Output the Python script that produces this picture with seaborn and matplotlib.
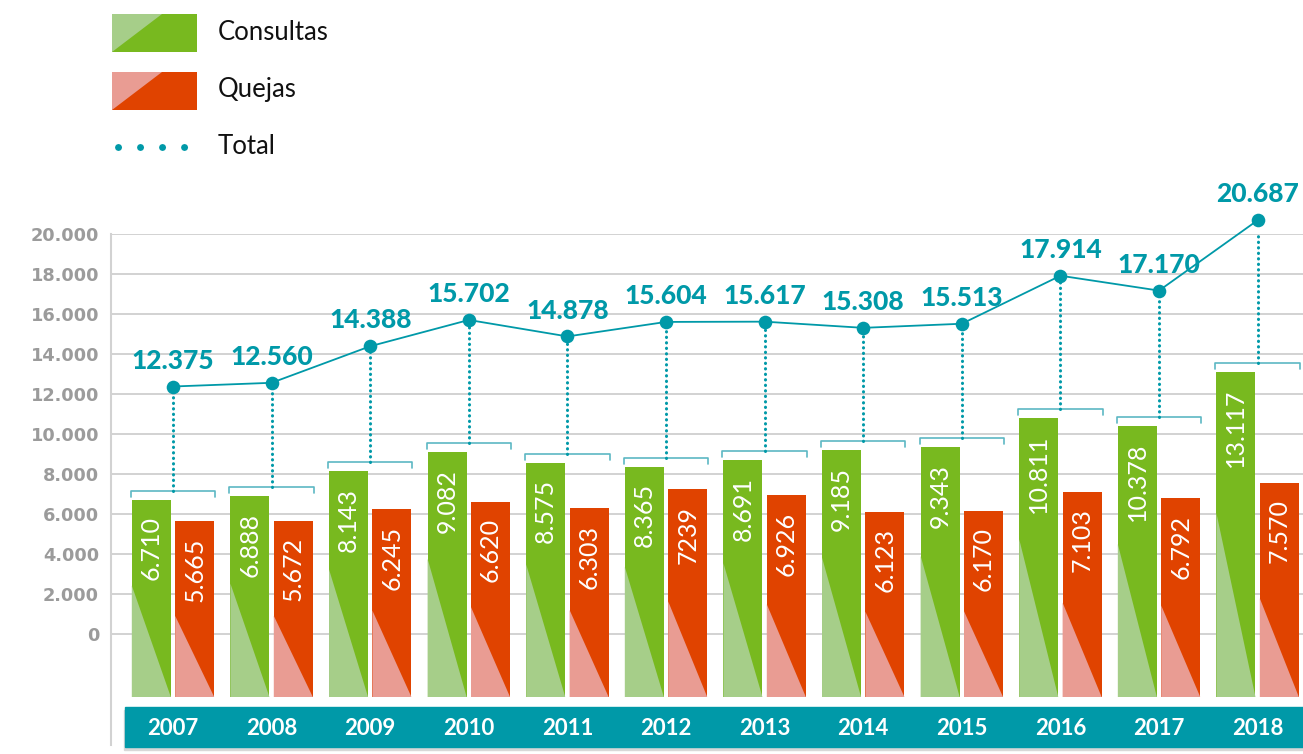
import numpy as np
import pandas as pd
import matplotlib.pyplot as plt
import seaborn as sns
from matplotlib.patches import Rectangle, Polygon
from matplotlib.lines import Line2D

years = ["2007", "2008", "2009", "2010", "2011", "2012",
         "2013", "2014", "2015", "2016", "2017", "2018"]
consultas = [6710, 6888, 8143, 9082, 8575, 8365, 8691, 9185, 9343, 10811, 10378, 13117]
quejas = [5665, 5672, 6245, 6620, 6303, 7239, 6926, 6123, 6170, 7103, 6792, 7570]
totales = [12375, 12560, 14388, 15702, 14878, 15604, 15617, 15308, 15513, 17914, 17170, 20687]
yticks = list(range(0, 20001, 2000))


def fmt(v):
    return f"{v:,}".replace(",", ".")


consultas_labels = [fmt(v) for v in consultas]
quejas_labels = [fmt(v) for v in quejas]
quejas_labels[5] = "7239"  # printed without the dot in the original
total_labels = [fmt(v) for v in totales]
ytick_labels = [fmt(v) for v in yticks]

GREEN = "#78B91F"
GREEN_LIGHT = "#A6CE89"
RED = "#E04300"
RED_LIGHT = "#E99C93"
TEAL = "#0099A8"
BRACKET = "#5CB8C4"
GRID = "#CBCBCB"
TICK = "#9B9B9B"

W, H = 1303, 754
BASE = -3150  # bars hang below the zero line, as in the original

sns.set_theme(style="white")
plt.rcParams["font.family"] = ["Lato", "DejaVu Sans"]

df = pd.DataFrame({
    "year": years * 2,
    "serie": ["Consultas"] * len(years) + ["Quejas"] * len(years),
    "valor": consultas + quejas,
})

fig = plt.figure(figsize=(W / 100, H / 100), dpi=100)
ax = fig.add_axes([111 / W, 1 - 745 / H, 1 - 111 / W, (745 - 234) / H])

sns.barplot(data=df, x="year", y="valor", hue="serie", palette=[GREEN, RED],
            width=0.88, gap=0.1, saturation=1, legend=False, linewidth=0,
            ax=ax, zorder=3)

# stretch bars down to the base and paint the light corner triangle
for cont, light, frac, labels in zip(ax.containers, [GREEN_LIGHT, RED_LIGHT],
                                     [0.565, 0.46], [consultas_labels, quejas_labels]):
    for bar, lbl in zip(cont, labels):
        top = bar.get_height()
        bar.set_y(BASE)
        bar.set_height(top - BASE)
        x0 = bar.get_x()
        x1 = x0 + bar.get_width()
        ax.add_patch(Polygon([(x0, BASE), (x0, BASE + frac * (top - BASE)), (x1, BASE)],
                             closed=True, color=light, lw=0, zorder=3.5))
        ax.annotate(lbl, ((x0 + x1) / 2, top), xytext=(0, -12), textcoords="offset points",
                    rotation=90, ha="center", va="top", color="white", fontsize=18,
                    zorder=4)

# total line
sns.lineplot(x=years, y=totales, color=TEAL, lw=1.3, marker="o", markersize=9.8,
             markeredgewidth=0, ax=ax, zorder=6)
tline = ax.lines[-1]
tline.set_clip_on(False)

# brackets and dotted connectors
for cbar, qbar, tot in zip(ax.containers[0], ax.containers[1], totales):
    xl = cbar.get_x() - 0.01
    xr = qbar.get_x() + qbar.get_width() + 0.01
    yb = max(cbar.get_y() + cbar.get_height(), qbar.get_y() + qbar.get_height()) + 450
    ax.plot([xl, xl, xr, xr], [yb - 300, yb, yb, yb - 300], color=BRACKET, lw=1.2, zorder=3)
    xc = (xl + xr) / 2
    ax.plot([xc, xc], [yb, tot], color=TEAL, lw=2.2, linestyle=(0, (0.1, 1.7)),
            dash_capstyle="round", zorder=5)

for x, y, lbl in zip(tline.get_xdata(), tline.get_ydata(), total_labels):
    ax.annotate(lbl, (x, y), xytext=(0, 10), textcoords="offset points", ha="center",
                va="bottom", color=TEAL, fontsize=19, fontweight="black",
                annotation_clip=False, zorder=7)

# axes styling
ax.set_ylim(-5550, 20000)
ax.set_xlim(-0.629, 11.46)
ax.set_yticks(yticks)
ax.set_yticklabels(ytick_labels, fontfamily="DejaVu Sans", fontweight="bold",
                   color=TICK, fontsize=12.8)
ax.tick_params(axis="y", length=0, pad=8.6)
ax.tick_params(axis="x", length=0, pad=-19.5, labelcolor="white", labelsize=16)
for t in ax.get_xticklabels():
    t.set_fontweight("bold")
ax.set_xlabel("")
ax.set_ylabel("")
ax.set_axisbelow("line")
ax.yaxis.grid(True, color=GRID, lw=1.2)
ax.xaxis.grid(False)
sns.despine(ax=ax, top=True, right=True, bottom=True)
ax.spines["left"].set_color("#D2D2D2")
ax.spines["left"].set_linewidth(1.5)

# teal year band
ax.add_patch(Rectangle((0.0105, -0.010), 1, 0.0784, transform=ax.transAxes,
                       color="#D8D8D8", clip_on=False, zorder=0.9))
ax.add_patch(Rectangle((0.0117, -0.004), 1, 0.0784, transform=ax.transAxes,
                       color=TEAL, clip_on=False, zorder=1))


# legend, drawn by hand
def px(x, y):
    return (x / W, 1 - y / H)


for ytop, dark, light, name in [(14, GREEN, GREEN_LIGHT, "Consultas"),
                                (72, RED, RED_LIGHT, "Quejas")]:
    fig.add_artist(Rectangle(px(112, ytop + 38), 85 / W, 38 / H,
                             transform=fig.transFigure, color=dark, lw=0))
    fig.add_artist(Polygon([px(112, ytop), px(162, ytop), px(112, ytop + 38)],
                           closed=True, transform=fig.transFigure, color=light, lw=0))
    fig.text(218 / W, 1 - (ytop + 18) / H, name, va="center", fontsize=18.5, color="#111111")

fig.add_artist(Line2D([118 / W, 190 / W], [1 - 147 / H] * 2, transform=fig.transFigure,
                      color=TEAL, lw=5, linestyle=(0, (0.01, 3.16)), dash_capstyle="round"))
fig.text(218 / W, 1 - 147 / H, "Total", va="center", fontsize=18.5, color="#111111")

fig.savefig("out.png", dpi=100)
